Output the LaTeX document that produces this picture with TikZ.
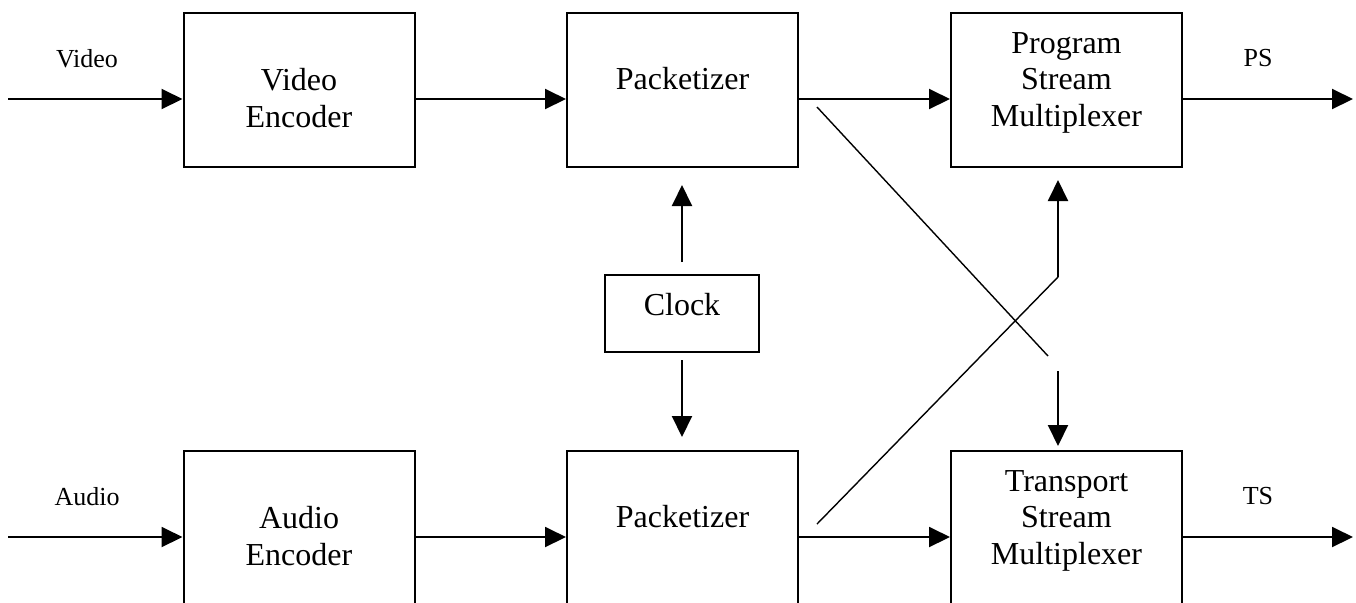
\documentclass[tikz,border=0pt]{standalone}
\usepackage{fontspec}
\setmainfont{Liberation Serif}
\usetikzlibrary{arrows.meta}
\begin{document}
\begin{tikzpicture}[x=0.5pt,y=-0.5pt,
 box/.style={draw,line width=1pt,inner sep=0pt,minimum width=115.5pt,minimum height=77pt},
 clockbox/.style={draw,line width=1pt,inner sep=0pt,minimum width=77pt,minimum height=38.5pt},
 txt/.style={anchor=base,inner sep=0pt,font=\fontsize{16}{18}\selectfont},
 lbl/.style={anchor=base,inner sep=0pt,font=\fontsize{13}{15}\selectfont},
 arr/.style={line width=1pt,-{Triangle[length=10.5pt,width=10pt]}},
 diag/.style={line width=0.7pt}]
\clip (0,0) rectangle (1356,602);
\fill[white] (0,0) rectangle (1356,602);
% boxes
\node[box] (ve) at (299,90) {};
\node[box] (p1) at (682.5,90) {};
\node[box] (psm) at (1066.5,90) {};
\node[clockbox] (clk) at (682,313.5) {};
\node[box] (ae) at (299,528) {};
\node[box] (p2) at (682.5,528) {};
\node[box] (tsm) at (1066.5,528) {};
% texts
\node[txt] (vet1) at (299,90) {Video};
\node[txt] (vet2) at (299,127) {Encoder};
\node[txt] (p1t) at (682.5,89.5) {Packetizer};
\node[txt] (psmt1) at (1066.5,53) {Program};
\node[txt] (psmt2) at (1066.5,89.5) {Stream};
\node[txt] (psmt3) at (1066.5,126) {Multiplexer};
\node[txt] (clkt) at (682,315) {Clock};
\node[txt] (aet1) at (299,528) {Audio};
\node[txt] (aet2) at (299,565) {Encoder};
\node[txt] (p2t) at (682.5,527.5) {Packetizer};
\node[txt] (tsmt1) at (1066.5,491) {Transport};
\node[txt] (tsmt2) at (1066.5,527.5) {Stream};
\node[txt] (tsmt3) at (1066.5,564) {Multiplexer};
% outer labels
\node[lbl] (lv) at (87,67) {Video};
\node[lbl] (la) at (87,505) {Audio};
\node[lbl] (lps) at (1258,66) {PS};
\node[lbl] (lts) at (1258,504) {TS};
% free ends
\coordinate (vin) at (8,99);
\coordinate (ain) at (8,537);
\coordinate (psout) at (1353,99);
\coordinate (tsout) at (1353,537);
\coordinate (d1s) at (817,107);
\coordinate (d1e) at (1048,356);
\coordinate (d1v) at (1058,371);
\coordinate (d2s) at (817,524);
\coordinate (d2e) at (1058,277);
\coordinate (tipps) at (1058,180);
\coordinate (tiptsm) at (1058,446);
\coordinate (tipp1) at (682,185);
\coordinate (tipp2) at (682,437);
\coordinate (clkup) at (682,262);
\coordinate (clkdn) at (682,360);
% connectors
\draw[arr] (vin) -- (vin -| ve.west);
\draw[arr] (vin -| ve.east) -- (vin -| p1.west);
\draw[arr] (vin -| p1.east) -- (vin -| psm.west);
\draw[arr] (vin -| psm.east) -- (psout);
\draw[arr] (ain) -- (ain -| ae.west);
\draw[arr] (ain -| ae.east) -- (ain -| p2.west);
\draw[arr] (ain -| p2.east) -- (ain -| tsm.west);
\draw[arr] (ain -| tsm.east) -- (tsout);
\draw[arr] (clkup) -- (tipp1);
\draw[arr] (clkdn) -- (tipp2);
\draw[diag] (d1s) -- (d1e);
\draw[arr] (d1v) -- (tiptsm);
\draw[diag] (d2s) -- (d2e);
\draw[arr] (d2e) -- (tipps);
\end{tikzpicture}
\end{document}
